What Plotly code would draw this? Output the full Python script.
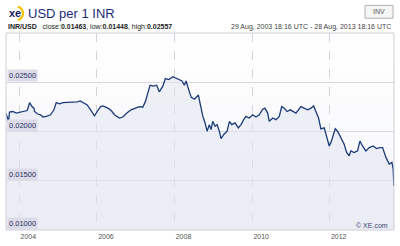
import math
import plotly.graph_objects as go

dates = ["2003-08-29","2003-09-22","2003-10-01","2003-11-02","2003-12-03","2004-01-03","2004-02-05","2004-03-16","2004-04-07","2004-04-30",
"2004-05-18","2004-05-24","2004-06-18","2004-07-19","2004-08-11","2004-09-11","2004-10-21","2004-11-22","2004-12-14","2005-01-14",
"2005-02-15","2005-04-03","2005-05-20","2005-06-30","2005-07-28","2005-08-22","2005-10-01","2005-11-02","2005-12-09","2006-01-03",
"2006-02-04","2006-02-26","2006-04-14","2006-05-15","2006-06-15","2006-08-01","2006-09-02","2006-10-09","2006-11-19","2006-12-29",
"2007-02-05","2007-03-08","2007-04-02","2007-04-24","2007-05-16","2007-06-16","2007-07-17","2007-08-11","2007-09-13","2007-10-07",
"2007-11-08","2007-12-16","2008-02-01","2008-03-12","2008-04-03","2008-04-19","2008-05-15","2008-06-06","2008-07-07","2008-08-13",
"2008-09-01","2008-09-24","2008-10-15","2008-11-03","2008-11-24","2008-12-10","2008-12-26","2009-01-17","2009-02-05","2009-02-26",
"2009-03-14","2009-04-09","2009-05-10","2009-06-01","2009-06-23","2009-07-24","2009-08-24","2009-09-18","2009-10-13","2009-11-04",
"2009-12-05","2010-01-06","2010-02-06","2010-03-09","2010-04-10","2010-05-01","2010-05-27","2010-06-11","2010-07-13","2010-08-13",
"2010-09-13","2010-10-06","2010-10-30","2010-11-25","2010-12-26","2011-01-17","2011-02-17","2011-04-05","2011-05-05","2011-06-07",
"2011-07-08","2011-08-03","2011-08-24","2011-09-18","2011-10-10","2011-11-10","2011-12-02","2011-12-27","2012-01-12","2012-01-28",
"2012-02-22","2012-03-15","2012-04-15","2012-05-16","2012-06-08","2012-07-02","2012-07-18","2012-08-18","2012-09-19","2012-10-11",
"2012-11-05","2012-12-06","2013-01-07","2013-02-13","2013-03-17","2013-04-17","2013-05-13","2013-06-13","2013-07-14","2013-08-08",
"2013-08-20","2013-08-27","2013-08-28"]
values = [0.02187,0.02103,0.02197,0.02203,0.02187,0.02193,0.02203,0.02213,0.02293,0.02253,
0.02237,0.02203,0.02180,0.02170,0.02147,0.02153,0.02170,0.02220,0.02293,0.02280,
0.02293,0.02293,0.02293,0.02300,0.02310,0.02293,0.02270,0.02220,0.02160,0.02203,
0.02253,0.02260,0.02237,0.02213,0.02170,0.02137,0.02147,0.02187,0.02220,0.02237,
0.02253,0.02247,0.02303,0.02387,0.02470,0.02460,0.02470,0.02403,0.02460,0.02537,
0.02527,0.02557,0.02537,0.02513,0.02470,0.02513,0.02420,0.02347,0.02327,0.02370,
0.02270,0.02153,0.02087,0.02003,0.02070,0.02020,0.02103,0.02053,0.02070,0.02003,
0.01927,0.01970,0.02003,0.02103,0.02070,0.02087,0.02037,0.02070,0.02120,0.02153,
0.02137,0.02170,0.02147,0.02170,0.02227,0.02237,0.02187,0.02103,0.02137,0.02120,
0.02153,0.02253,0.02237,0.02203,0.02220,0.02203,0.02187,0.02253,0.02237,0.02220,
0.02237,0.02260,0.02203,0.02137,0.02027,0.02037,0.01953,0.01853,0.01887,0.01953,
0.02027,0.02003,0.01937,0.01870,0.01787,0.01753,0.01803,0.01787,0.01803,0.01903,
0.01853,0.01803,0.01837,0.01853,0.01827,0.01837,0.01837,0.01737,0.01670,0.01687,
0.01620,0.01448,0.01463]

y_ticks = [0.010, 0.015, 0.020, 0.025]
y_tick_labels = ["0.01000", "0.01500", "0.02000", "0.02500"]
x_ticks = ["2004-01-01", "2006-01-01", "2008-01-01", "2010-01-01", "2012-01-01"]
x_tick_labels = ["2004", "2006", "2008", "2010", "2012"]

W, H = 400, 246
L, R, T, B = 6, 6, 33, 13

def px(x):
    return (x - L) / (W - L - R)

def py(y):
    return 1 - (y - T) / (H - T - B)

NAVY = "#1b3a78"
FONT = "Liberation Sans"

fig = go.Figure()
fig.add_trace(go.Scatter(
    x=dates, y=values, mode="lines",
    line=dict(color=NAVY, width=1.3),
    fill="tozeroy", fillcolor="rgba(226,229,240,0.55)",
    hoverinfo="skip", showlegend=False,
))

shapes = []
n = 12
for i in range(n):
    y0 = 0.010 + 0.020 * i / n
    y1 = 0.010 + 0.020 * (i + 1) / n
    a = 0.22 * (1 - i / n)
    shapes.append(dict(type="rect", xref="paper", yref="y", x0=0, x1=1, y0=y0, y1=y1,
                       fillcolor=f"rgba(214,216,232,{a:.3f})", line=dict(width=0), layer="below"))
shapes.append(dict(type="rect", xref="paper", yref="paper", x0=0, x1=1, y0=0, y1=1,
                   line=dict(color="#cfd0d8", width=1), layer="above"))
# logo arc (right part of a circle)
cx, cy, r = 16, 13, 7
pts = []
for k in range(0, 13):
    ang = math.radians(-75 + 150 * k / 12)
    pts.append((px(cx + r * math.cos(ang)), py(cy + r * math.sin(ang))))
path = "M " + " L ".join(f"{a:.5f},{b:.5f}" for a, b in pts)
shapes.append(dict(type="path", xref="paper", yref="paper", path=path,
                   line=dict(color="#f2c200", width=2.2), layer="above"))
shapes.append(dict(type="rect", xref="paper", yref="paper",
                   x0=px(365), x1=px(393), y0=py(18), y1=py(5),
                   line=dict(color="#b0b0b0", width=1), fillcolor="#f6f6f6"))

annotations = []
for v, lab in zip(y_ticks, y_tick_labels):
    annotations.append(dict(xref="paper", yref="y", x=0, y=v, text=lab, showarrow=False,
                            xanchor="left", yanchor="bottom", xshift=1,
                            bgcolor="#dcdce9", borderpad=1,
                            font=dict(family=FONT, size=7.5, color="#2a2f5e")))
annotations += [
    dict(xref="paper", yref="paper", x=px(7), y=py(13), text="<b>xe</b>", showarrow=False,
         xanchor="left", yanchor="middle", font=dict(family=FONT, size=11, color="#14205a")),
    dict(xref="paper", yref="paper", x=px(26), y=py(13), text="USD per 1 INR", showarrow=False,
         xanchor="left", yanchor="middle", font=dict(family=FONT, size=13, color="#1c2c78")),
    dict(xref="paper", yref="paper", x=px(6), y=py(27), showarrow=False, xanchor="left", yanchor="middle",
         text="<b>INR/USD</b>   close:<b>0.01463</b>, low:<b>0.01448</b>, high:<b>0.02557</b>",
         font=dict(family=FONT, size=7, color="#222222")),
    dict(xref="paper", yref="paper", x=px(393), y=py(27), showarrow=False, xanchor="right", yanchor="middle",
         text="29 Aug, 2003 18:16 UTC - 28 Aug, 2013 18:16 UTC",
         font=dict(family=FONT, size=7, color="#444444")),
    dict(xref="paper", yref="paper", x=px(379), y=py(11.5), showarrow=False, xanchor="center", yanchor="middle",
         text="INV", font=dict(family=FONT, size=7, color="#555555")),
    dict(xref="paper", yref="paper", x=px(390), y=py(228), showarrow=False, xanchor="right", yanchor="middle",
         text="© XE.com", font=dict(family=FONT, size=7, color="#3a4070")),
]

fig.update_layout(
    width=W, height=H,
    margin=dict(l=L, r=R, t=T, b=B),
    paper_bgcolor="white", plot_bgcolor="white",
    shapes=shapes, annotations=annotations,
    xaxis=dict(type="date", range=["2003-08-29", "2013-08-28"],
               tickvals=x_ticks, ticktext=x_tick_labels,
               showgrid=True, gridcolor="#d4d4dc", griddash="dash", gridwidth=1,
               ticks="", ticklabelshift=9, ticklabelstandoff=1,
               tickfont=dict(family=FONT, size=7, color="#555555"),
               zeroline=False, showline=False, fixedrange=True),
    yaxis=dict(range=[0.010, 0.030], tickvals=y_ticks, showticklabels=False,
               showgrid=True, gridcolor="#d8d8e0", gridwidth=1,
               zeroline=False, showline=False, fixedrange=True),
)

fig.write_html("out.html")
